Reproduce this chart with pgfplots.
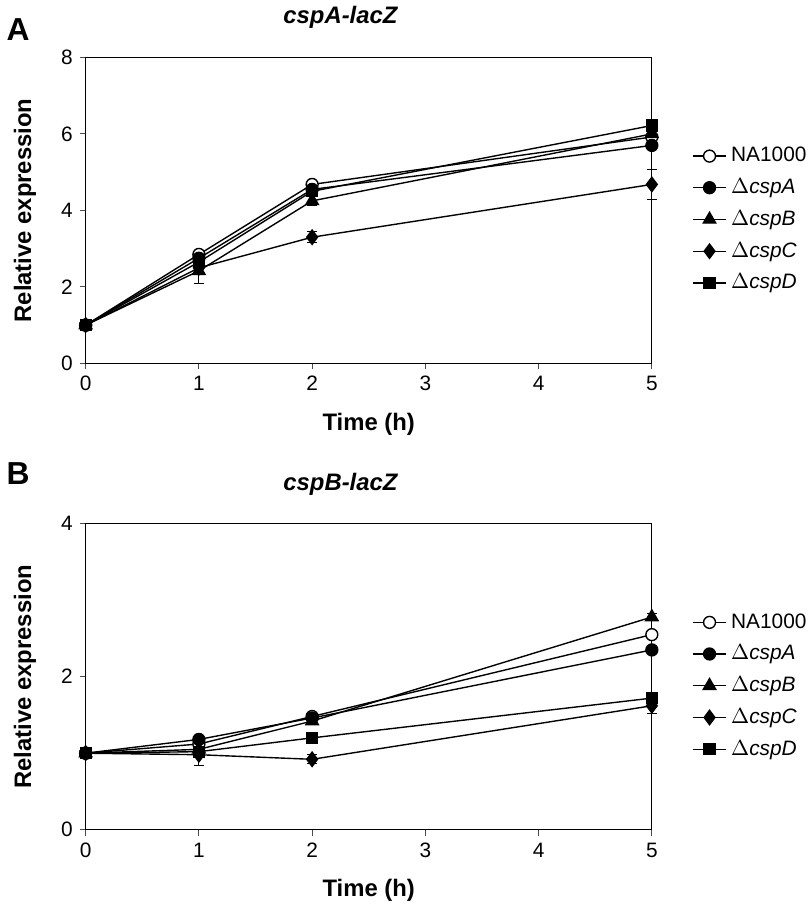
\documentclass[border=0pt]{standalone}
\usepackage{fontspec}
\setmainfont{Liberation Sans}
\usepackage{pgfplots}
\pgfplotsset{compat=1.18}
\pgfplotsset{
  panel/.style={
    scale only axis, width=285pt, height=154pt,
    xmin=0, xmax=5, xtick={0,1,2,3,4,5},
    ymin=0,
    axis line style={line width=0.6pt},
    tick align=outside, xtick pos=left, ytick pos=left,
    major tick length=3pt,
    tick style={line width=0.5pt, black!70},
    /pgf/number format/assume math mode=true,
    tick label style={font=\fontsize{10.5}{12}\selectfont},
    xlabel={\textbf{Time (h)}}, ylabel={\textbf{Relative expression}},
    label style={font=\fontsize{12}{14}\selectfont},
    xlabel style={at={(axis description cs:0.5,0)}, anchor=center, yshift=-30.5pt},
    ylabel style={at={(axis description cs:-0.107,0.5)}, anchor=center},
    title style={font=\bfseries\itshape\fontsize{12}{14}\selectfont, at={(axis description cs:0.45,1)}, anchor=center, yshift=14pt},
    legend style={draw=none, fill=none, at={(rel axis cs:1.07,0.47)}, anchor=west,
      font=\fontsize{10.5}{12}\selectfont, row sep=3pt, inner sep=0pt},
    legend cell align=left,
    clip=false,
    every axis plot/.append style={black, line width=0.7pt, mark size=3pt},
  },
  sNA/.style={mark=*, mark options={fill=white, solid}},
  sA/.style={mark=*, mark options={fill=black, solid}},
  sB/.style={mark=triangle*, mark size=3.6pt, mark options={fill=black, solid}},
  sC/.style={mark=diamond*, mark size=3.6pt, mark options={fill=black, solid}},
  sD/.style={mark=square*, mark size=2.7pt, mark options={fill=black, solid}},
  eb/.style={error bars/.cd, y dir=both, y explicit, error bar style={line width=0.5pt, black}, error mark options={rotate=90, mark size=2.5pt, line width=0.5pt}},
}
\begin{document}
\begin{tikzpicture}
\begin{axis}[panel, at={(0pt,234.7pt)}, anchor=south west,
  ymax=8, ytick={0,2,4,6,8}, title={cspA-lacZ}]
\addplot[sNA, eb] coordinates {(0,1) +- (0,0.03) (1,2.85) +- (0,0.1) (2,4.68) +- (0,0.1) (5,5.92) +- (0,0.1)};
\addlegendentry{NA1000}
\addplot[sA, eb] coordinates {(0,1) +- (0,0.03) (1,2.75) +- (0,0.1) (2,4.55) +- (0,0.1) (5,5.7) +- (0,0.1)};
\addlegendentry{$\Delta$\textit{cspA}}
\addplot[sB, eb] coordinates {(0,1) +- (0,0.03) (1,2.42) +- (0,0.32) (2,4.25) +- (0,0.12) (5,6.0) +- (0,0.1)};
\addlegendentry{$\Delta$\textit{cspB}}
\addplot[sC, eb] coordinates {(0,1) +- (0,0.03) (1,2.5) +- (0,0.1) (2,3.3) +- (0,0.15) (5,4.68) +- (0,0.4)};
\addlegendentry{$\Delta$\textit{cspC}}
\addplot[sD, eb] coordinates {(0,1) +- (0,0.03) (1,2.65) +- (0,0.1) (2,4.5) +- (0,0.1) (5,6.22) +- (0,0.1)};
\addlegendentry{$\Delta$\textit{cspD}}
\node[font=\bfseries\fontsize{16}{18}\selectfont, xshift=-34pt, yshift=14pt] at (rel axis cs:0,1) {A};
\end{axis}
\begin{axis}[panel, at={(0pt,0pt)}, anchor=south west,
  ymax=4, ytick={0,2,4}, title={cspB-lacZ}]
\addplot[sNA, eb] coordinates {(0,1) +- (0,0.02) (1,1.12) +- (0,0.04) (2,1.48) +- (0,0.04) (5,2.55) +- (0,0.05)};
\addlegendentry{NA1000}
\addplot[sA, eb] coordinates {(0,1) +- (0,0.02) (1,1.18) +- (0,0.04) (2,1.46) +- (0,0.04) (5,2.35) +- (0,0.05)};
\addlegendentry{$\Delta$\textit{cspA}}
\addplot[sB, eb] coordinates {(0,1) +- (0,0.02) (1,1.05) +- (0,0.05) (2,1.42) +- (0,0.05) (5,2.78) +- (0,0.05)};
\addlegendentry{$\Delta$\textit{cspB}}
\addplot[sC, eb] coordinates {(0,1) +- (0,0.02) (1,0.98) +- (0,0.14) (2,0.92) +- (0,0.06) (5,1.62) +- (0,0.1)};
\addlegendentry{$\Delta$\textit{cspC}}
\addplot[sD, eb] coordinates {(0,1) +- (0,0.02) (1,1.02) +- (0,0.05) (2,1.2) +- (0,0.04) (5,1.72) +- (0,0.05)};
\addlegendentry{$\Delta$\textit{cspD}}
\node[font=\bfseries\fontsize{16}{18}\selectfont, xshift=-34pt, yshift=25pt] at (rel axis cs:0,1) {B};
\end{axis}
\end{tikzpicture}
\end{document}
